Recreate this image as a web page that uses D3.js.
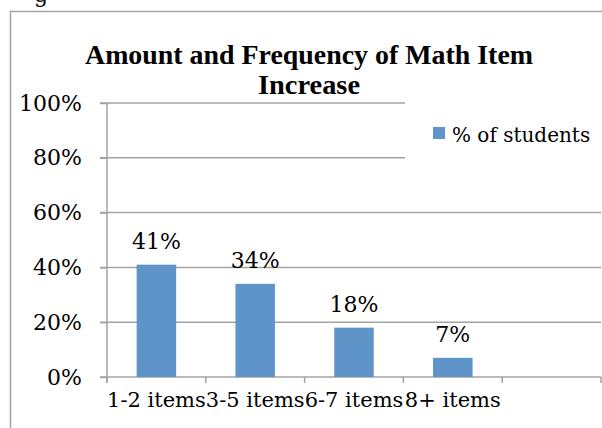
<!DOCTYPE html>
<html>
<head>
<meta charset="utf-8">
<script src="https://cdn.jsdelivr.net/npm/d3@7"></script>
<style>
  body { margin: 0; background: #fff; }
  svg { display: block; }
</style>
</head>
<body>
<div id="chart"></div>
<script>
const categories = ["1-2 items", "3-5 items", "6-7 items", "8+ items", ""];
const values = [41, 34, 18, 7];
const yTicks = [0, 20, 40, 60, 80, 100];
const seriesName = "% of students";
const titleLines = ["Amount and Frequency of Math Item", "Increase"];

const chartW = 602, chartH = 428;
const plotLeft = 107, plotRight = 601, plotTop = 103, plotBottom = 377;
const font = "'DejaVu Serif', serif";
const titleFont = "'Liberation Serif', serif";
const barColor = "#5F94C9";
const gridColor = "#A3A3A3";

let svg = d3.select("#chart").append("svg")
  .attr("width", chartW)
  .attr("height", chartH);

svg.append("rect").attr("width", chartW).attr("height", chartH).attr("fill", "#fff");

// bit of the caption above the frame
svg.append("text")
  .attr("x", 34).attr("y", 2)
  .style("font-family", font).style("font-size", "22px")
  .text("g");

// outer frame (runs off the page)
svg.append("rect")
  .attr("x", 10.5).attr("y", 11.5)
  .attr("width", 700).attr("height", 500)
  .attr("fill", "none")
  .attr("stroke", gridColor)
  .attr("stroke-width", 1.5);

const x = d3.scaleBand().domain(categories).range([plotLeft, plotRight]).padding(0);
const y = d3.scaleLinear().domain([0, 100]).range([plotBottom, plotTop]);

// gridlines
svg.append("g").selectAll("line")
  .data(yTicks)
  .enter()
  .append("line")
  .attr("x1", plotLeft - 7)
  .attr("x2", plotRight)
  .attr("y1", d => y(d))
  .attr("y2", d => y(d))
  .style("stroke", gridColor)
  .style("stroke-width", "1.5px");

// y axis
let yAxis = svg.append("g")
  .attr("transform", "translate(" + plotLeft + ",0)")
  .call(d3.axisLeft(y).tickValues(yTicks).tickFormat(d => d + "%").tickSize(7).tickPadding(18));
yAxis.selectAll("line").style("stroke", gridColor).style("stroke-width", "1.5px");
yAxis.select(".domain").attr("d", "M0," + plotTop + "V" + (plotBottom + 6))
  .style("stroke", gridColor).style("stroke-width", "1.5px");
yAxis.selectAll("text")
  .style("font-family", font).style("font-size", "22px").style("fill", "#000");

// x axis: ticks at band edges, labels centred
let boundaries = categories.map(c => x(c)).concat([plotRight]);
svg.append("g").selectAll("line")
  .data(boundaries)
  .enter()
  .append("line")
  .attr("x1", d => d).attr("x2", d => d)
  .attr("y1", plotBottom).attr("y2", plotBottom + 6)
  .style("stroke", gridColor)
  .style("stroke-width", "1.5px");

let xAxis = svg.append("g")
  .attr("transform", "translate(0," + plotBottom + ")")
  .call(d3.axisBottom(x).tickSize(0).tickPadding(15));
xAxis.select(".domain").remove();
xAxis.selectAll("text")
  .style("font-family", font).style("font-size", "21px").style("fill", "#000");

// bars
const barW = x.bandwidth() * 0.4;
svg.append("g").selectAll("rect")
  .data(values)
  .enter()
  .append("rect")
  .attr("x", (d, i) => x(categories[i]) + (x.bandwidth() - barW) / 2)
  .attr("y", d => y(d))
  .attr("width", barW)
  .attr("height", d => plotBottom - y(d))
  .attr("fill", barColor);

// value labels
svg.append("g").selectAll("text")
  .data(values)
  .enter()
  .append("text")
  .attr("x", (d, i) => x(categories[i]) + x.bandwidth() / 2)
  .attr("y", d => y(d) - 16)
  .attr("text-anchor", "middle")
  .style("font-family", font).style("font-size", "22px")
  .text(d => d + "%");

// legend box covers gridlines
svg.append("rect")
  .attr("x", 405).attr("y", 96)
  .attr("width", 197).attr("height", 80)
  .attr("fill", "#fff");
svg.append("rect")
  .attr("x", 433).attr("y", 127)
  .attr("width", 12).attr("height", 12)
  .attr("fill", barColor);
svg.append("text")
  .attr("x", 452).attr("y", 142)
  .style("font-family", font).style("font-size", "20px")
  .text(seriesName);

// title
svg.append("g").selectAll("text")
  .data(titleLines)
  .enter()
  .append("text")
  .attr("x", 309)
  .attr("y", (d, i) => 64 + i * 30)
  .attr("text-anchor", "middle")
  .attr("textLength", (d, i) => i == 0 ? 448 : 102)
  .attr("lengthAdjust", "spacingAndGlyphs")
  .style("font-family", titleFont).style("font-size", "28px").style("font-weight", "bold")
  .text(d => d);
</script>
</body>
</html>
